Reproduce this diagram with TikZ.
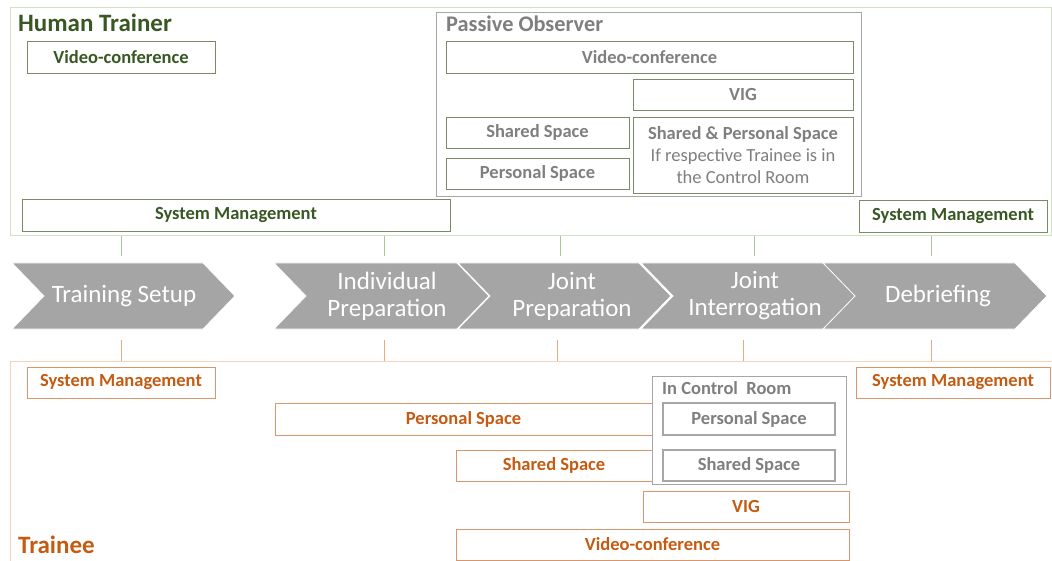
\documentclass[tikz,border=0pt]{standalone}
\usepackage{fontspec}
\setmainfont{Carlito}
\definecolor{htgreen}{HTML}{385723}
\definecolor{htline}{HTML}{7A8A66}
\definecolor{htpanel}{HTML}{CFE3C2}
\definecolor{htlink}{HTML}{A9C79A}
\definecolor{tnorange}{HTML}{C55A11}
\definecolor{tnline}{HTML}{D9966A}
\definecolor{tnpanel}{HTML}{F8D3BA}
\definecolor{tnlink}{HTML}{F0A878}
\definecolor{obgray}{HTML}{7F7F7F}
\definecolor{obline}{HTML}{A6A6A6}
\definecolor{stagefill}{HTML}{A5A5A5}
\newcommand{\boxfont}{\bfseries\fontsize{18.5}{22}\selectfont}
\begin{document}
\begin{tikzpicture}[x=1pt, y=-1pt]
    \tikzset{htbox/.style={draw=htline, text=htgreen, font=\boxfont, inner sep=0, minimum height=32}}
    \tikzset{obbox/.style={draw=htline, text=obgray, font=\boxfont, inner sep=0, minimum height=31}}
    \tikzset{tnbox/.style={draw=tnline, text=tnorange, font=\boxfont, inner sep=0, minimum height=31}}
    \tikzset{crbox/.style={draw=obline, line width=1.2, text=obgray, font=\boxfont, inner sep=0, minimum height=31}}
    \tikzset{title/.style={anchor=base west, inner sep=0, font=\bfseries\fontsize{25}{28}\selectfont}}
    \tikzset{stagetext/.style={text=white, align=center, font=\fontsize{25}{27}\selectfont}}
    \useasboundingbox (0,0) rectangle (1052,561);
    % panels
    \draw[htpanel, line width=1] (10,8) rectangle (1051,236);
    \draw[tnpanel, line width=1] (10,561) -- (10,361) -- (1052,361);
    \node[title, text=htgreen] (httitle) at (18,32) {Human Trainer};
    \node[title, text=tnorange] (tntitle) at (18,553) {Trainee};
    % human trainer
    \node[htbox, minimum width=188] (htvideo) at (121,57) {Video-conference};
    \node[htbox, minimum width=428] (htsysleft) at (236,215) {System Management};
    \node[htbox, minimum width=188] (htsysright) at (953,216) {System Management};
    % passive observer
    \draw[obline, fill=white, line width=1] (436,13) rectangle (861,197);
    \node[title, text=obgray, font=\bfseries\fontsize{22.3}{25}\selectfont] (obtitle) at (446,32) {Passive Observer};
    \node[obbox, minimum width=407, minimum height=32] (obvideo) at (649.5,57) {Video-conference};
    \node[obbox, minimum width=220] (obvig) at (743,94.5) {VIG};
    \node[obbox, minimum width=183] (obshared) at (537.5,132.5) {Shared Space};
    \node[obbox, minimum width=183] (obpersonal) at (537.5,173.5) {Personal Space};
    \node[obbox, minimum width=220, minimum height=76, align=center] (obboth) at (743,155)
        {Shared \& Personal Space\\{\mdseries If respective Trainee is in}\\{\mdseries the Control Room}};
    % stages
    \foreach \l/\t/\cx/\txt/\name in {12/235/124/{Training Setup}/setup,
            274/489/387/{Individual\\Preparation}/indiv,
            458/671/572/{Joint\\Preparation}/jointprep,
            641/856/755/{Joint\\Interrogation}/interrog,
            823/1047/938/{Debriefing}/debrief}
    {
        \filldraw[fill=stagefill, draw=white, line width=0.8]
            (\l,263) -- (\t-32,263) -- (\t,296) -- (\t-32,329) -- (\l,329) -- (\l+32,296) -- cycle;
        \node[stagetext] (\name) at (\cx,296) {\txt};
    }
    % links
    \foreach \x [count=\i] in {121,384,560,754,931}
    {
        \coordinate (htup\i) at (\x,236);
        \coordinate (htdown\i) at (\x,256);
        \draw[htlink, line width=1] (htup\i) -- (htdown\i);
    }
    \foreach \x [count=\i] in {121,384,557,743,931}
    {
        \coordinate (tnup\i) at (\x,340);
        \coordinate (tndown\i) at (\x,361);
        \draw[tnlink, line width=1] (tnup\i) -- (tndown\i);
    }
    % trainee
    \node[tnbox, minimum width=188] (tnsysleft) at (121,382.5) {System Management};
    \node[tnbox, minimum width=194] (tnsysright) at (953,382.5) {System Management};
    \node[tnbox, minimum width=377, minimum height=32] (tnpersonal) at (463.5,419) {Personal Space};
    \node[tnbox, minimum width=196] (tnshared) at (554,465.5) {Shared Space};
    \node[tnbox, minimum width=206] (tnvig) at (746,506.5) {VIG};
    \node[tnbox, minimum width=393] (tnvideo) at (652.5,544.5) {Video-conference};
    % control room
    \draw[obline, fill=white, line width=1] (652,376) rectangle (846,484);
    \node[title, text=obgray, font=\boxfont] (crtitle) at (662,394) {In Control~~Room};
    \node[crbox, minimum width=172, minimum height=32] (crpersonal) at (749,419) {Personal Space};
    \node[crbox, minimum width=172] (crshared) at (749,465.5) {Shared Space};
\end{tikzpicture}
\end{document}
